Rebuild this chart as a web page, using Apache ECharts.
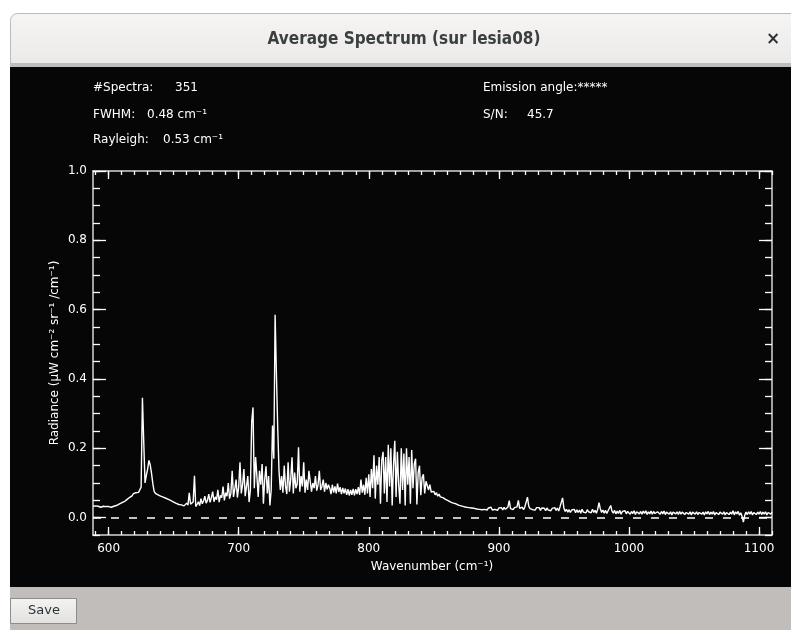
<!DOCTYPE html>
<html><head><meta charset="utf-8">
<script src="https://cdn.jsdelivr.net/npm/echarts@6/dist/echarts.min.js"></script>
<style>html,body{margin:0;padding:0;background:#fff;}#c{width:791px;height:630px;}</style>
</head><body><div id="c"></div>
<script>
const wavenumber = [
588,589,590,591,592,593,594,595,596,597,598,599,
600,601,602,603,604,605,606,607,608,609,
610,611,612,613,614,615,616,617,618,619,
620,621,622,623,624,625,626,627,628,629,
630,631,632,633,634,635,636,637,638,639,
640,641,642,643,644,645,646,647,648,649,
650,651,652,653,654,655,656,657,658,659,
660,661,662,663,664,665,666,667,668,669,
670,671,672,673,674,675,676,677,678,679,
680,681,682,683,684,685,686,687,688,689,
690,691,692,693,694,695,696,697,698,699,
700,701,702,703,704,705,706,707,708,709,
710,711,712,713,714,715,716,717,718,719,
720,721,722,723,724,725,726,727,728,729,
730,731,732,733,734,735,736,737,738,739,
740,741,742,743,744,745,746,747,748,749,
750,751,752,753,754,755,756,757,758,759,
760,761,762,763,764,765,766,767,768,769,
770,771,772,773,774,775,776,777,778,779,
780,781,782,783,784,785,786,787,788,789,
790,791,792,793,794,795,796,797,798,799,
800,801,802,803,804,805,806,807,808,809,
810,811,812,813,814,815,816,817,818,819,
820,821,822,823,824,825,826,827,828,829,
830,831,832,833,834,835,836,837,838,839,
840,841,842,843,844,845,846,847,848,849,
850,851,852,853,854,855,856,857,858,859,
860,861,862,863,864,865,866,867,868,869,
870,871,872,873,874,875,876,877,878,879,
880,881,882,883,884,885,886,887,888,889,
890,891,892,893,894,895,896,897,898,899,
900,901,902,903,904,905,906,907,908,909,
910,911,912,913,914,915,916,917,918,919,
920,921,922,923,924,925,926,927,928,929,
930,931,932,933,934,935,936,937,938,939,
940,941,942,943,944,945,946,947,948,949,
950,951,952,953,954,955,956,957,958,959,
960,961,962,963,964,965,966,967,968,969,
970,971,972,973,974,975,976,977,978,979,
980,981,982,983,984,985,986,987,988,989,
990,991,992,993,994,995,996,997,998,999,
1000,1001,1002,1003,1004,1005,1006,1007,1008,1009,
1010,1011,1012,1013,1014,1015,1016,1017,1018,1019,
1020,1021,1022,1023,1024,1025,1026,1027,1028,1029,
1030,1031,1032,1033,1034,1035,1036,1037,1038,1039,
1040,1041,1042,1043,1044,1045,1046,1047,1048,1049,
1050,1051,1052,1053,1054,1055,1056,1057,1058,1059,
1060,1061,1062,1063,1064,1065,1066,1067,1068,1069,
1070,1071,1072,1073,1074,1075,1076,1077,1078,1079,
1080,1081,1082,1083,1084,1085,1086,1087,1088,1089,
1090,1091,1092,1093,1094,1095,1096,1097,1098,1099,
1100,1101,1102,1103,1104,1105,1106,1107,1108,1109,
1110];
const radiance = [
.033,.031,.034,.030,.033,.034,.030,.031,.033,.029,.032,.029,
.032,.031,.030,.034,.033,.036,.035,.039,.039,.042,
.043,.047,.046,.051,.052,.056,.058,.063,.063,.069,
.069,.072,.068,.073,.074,.088,.346,.220,.100,.122,
.140,.165,.152,.128,.098,.076,.070,.065,.066,.061,
.062,.058,.059,.054,.056,.051,.053,.048,.049,.044,
.045,.040,.041,.037,.038,.033,.037,.034,.034,.037,
.042,.036,.072,.039,.034,.045,.121,.032,.038,.046,
.035,.055,.040,.048,.062,.042,.050,.068,.044,.058,
.075,.046,.060,.052,.080,.045,.064,.058,.090,.050,
.072,.062,.100,.055,.070,.135,.060,.082,.110,.058,
.088,.160,.070,.095,.140,.062,.090,.120,.045,.080,
.275,.318,.085,.175,.120,.060,.135,.095,.155,.040,
.110,.148,.070,.120,.035,.080,.266,.170,.585,.415,
.260,.135,.080,.120,.072,.150,.090,.068,.160,.075,
.110,.174,.070,.130,.085,.098,.203,.075,.120,.090,
.160,.072,.110,.080,.135,.140,.075,.100,.085,.120,
.078,.095,.135,.080,.090,.110,.075,.100,.082,.095,
.085,.068,.095,.072,.090,.070,.098,.074,.088,.068,
.086,.070,.084,.066,.082,.064,.080,.066,.083,.064,
.082,.068,.088,.066,.110,.072,.095,.066,.115,.070,
.125,.060,.140,.085,.180,.055,.150,.095,.175,.040,
.165,.190,.070,.175,.045,.210,.090,.200,.035,.150,
.222,.060,.190,.095,.040,.200,.080,.185,.035,.200,
.095,.175,.040,.195,.085,.155,.170,.038,.130,.150,
.065,.115,.125,.070,.105,.100,.080,.095,.074,.078,
.076,.066,.072,.062,.068,.060,.064,.058,.060,.053,
.056,.049,.053,.045,.050,.042,.046,.040,.043,.036,
.040,.034,.038,.032,.036,.030,.035,.029,.033,.028,
.032,.027,.030,.025,.030,.024,.029,.023,.028,.024,
.029,.022,.028,.023,.030,.022,.027,.024,.029,.021,
.028,.023,.029,.022,.030,.024,.028,.031,.049,.026,
.030,.023,.029,.024,.031,.050,.027,.022,.030,.023,
.031,.036,.059,.033,.026,.030,.023,.028,.022,.029,
.024,.029,.021,.028,.023,.027,.020,.028,.022,.026,
.020,.027,.022,.029,.021,.028,.019,.031,.036,.057,
.028,.018,.024,.016,.023,.015,.022,.017,.024,.014,
.023,.015,.022,.013,.024,.016,.021,.014,.023,.017,
.022,.014,.024,.015,.021,.013,.024,.043,.026,.015,
.022,.013,.021,.012,.020,.024,.035,.019,.013,.021,
.011,.019,.012,.021,.010,.018,.013,.020,.011,.018,
.020,.010,.018,.012,.020,.009,.017,.021,.011,.018,
.010,.019,.012,.020,.009,.017,.011,.019,.010,.018,
.012,.008,.017,.020,.010,.018,.011,.019,.009,.016,
.018,.010,.017,.008,.016,.019,.011,.017,.009,.018,
.010,.016,.019,.009,.015,.018,.010,.017,.008,.016,
.018,.010,.017,.009,.015,.019,.010,.016,.008,.017,
.011,.018,.009,.016,.010,.018,.008,.015,.017,.009,
.016,.019,.010,.017,.008,.015,.018,.009,.016,.010,
.020,.008,.017,.011,.018,.007,.014,.004,-.013,.006,
.016,.009,.017,.010,.018,.008,.015,.017,.009,.016,
.010,.018,.009,.016,.010,.017,.008,.015,.017,.010,
.016];

const xMajorTicks = [600, 700, 800, 900, 1000, 1100];
const xMinorTicks = [590,600,610,620,630,640,650,660,670,680,690,700,710,720,730,740,750,760,770,780,790,
  800,810,820,830,840,850,860,870,880,890,900,910,920,930,940,950,960,970,980,990,
  1000,1010,1020,1030,1040,1050,1060,1070,1080,1090,1100,1110];
const yMajorTicks = [0, 0.2, 0.4, 0.6, 0.8, 1.0];
const yMinorTicks = [-0.05,0,0.05,0.1,0.15,0.2,0.25,0.3,0.35,0.4,0.45,0.5,0.55,0.6,0.65,0.7,0.75,0.8,0.85,0.9,0.95,1.0];
const zeroLevel = 0;

const windowTitle = 'Average Spectrum (sur lesia08)';
const infoLeftLabels = ['#Spectra:', 'FWHM:', 'Rayleigh:'];
const infoLeftValues = ['351', '0.48 cm⁻¹', '0.53 cm⁻¹'];
const infoRightLabels = ['Emission angle:*****', 'S/N:'];
const infoRightValues = ['', '45.7'];
const xTitle = 'Wavenumber (cm⁻¹)';
const yTitle = 'Radiance (μW cm⁻² sr⁻¹ /cm⁻¹)';
const buttonText = 'Save';

const FONT = 'DejaVu Sans';
const AX_LINE = {color: '#d6d6d6', width: 1.5};
const TICK = {color: '#ffffff', width: 1.3};

function xAx(pos, ticks, len, labels, line) {
  return {
    type: 'value', min: 588, max: 1110, position: pos, z: 10,
    axisLine: {show: line, onZero: false, lineStyle: AX_LINE},
    axisTick: {show: true, inside: true, length: len, customValues: ticks, lineStyle: TICK},
    axisLabel: labels ? {show: true, customValues: ticks, color: '#fff', fontFamily: FONT, fontSize: 12, margin: 8,
      formatter: v => String(Math.round(v))} : {show: false},
    splitLine: {show: false}, minorTick: {show: false}
  };
}
function yAx(pos, ticks, len, labels, line) {
  return {
    type: 'value', min: -0.05, max: 1.0, position: pos, z: 10,
    axisLine: {show: line, onZero: false, lineStyle: AX_LINE},
    axisTick: {show: true, inside: true, length: len, customValues: ticks, lineStyle: TICK},
    axisLabel: labels ? {show: true, customValues: ticks, color: '#fff', fontFamily: FONT, fontSize: 12, margin: 6,
      formatter: v => v.toFixed(1)} : {show: false},
    splitLine: {show: false}, minorTick: {show: false}
  };
}

const points = wavenumber.map((w, i) => [w, radiance[i]]);

const graphics = [
  {type: 'rect', z: 0, shape: {x: 10.5, y: 13.5, width: 800, height: 54, r: [7, 7, 0, 0]},
   style: {fill: new echarts.graphic.LinearGradient(0, 0, 0, 1, [{offset: 0, color: '#f6f5f4'}, {offset: 1, color: '#ebe9e7'}]), stroke: '#bdbab7', lineWidth: 1}},
  {type: 'rect', z: 0, shape: {x: 10, y: 63, width: 800, height: 4}, style: {fill: '#bfbdbb'}},
  {type: 'rect', z: 0, shape: {x: 10, y: 67, width: 800, height: 520}, style: {fill: '#060606'}},
  {type: 'rect', z: 0, shape: {x: 10, y: 587, width: 800, height: 43}, style: {fill: '#c0bdbb'}},
  {type: 'rect', z: 1, shape: {x: 10.5, y: 598.5, width: 66, height: 25},
   style: {fill: new echarts.graphic.LinearGradient(0, 0, 0, 1, [{offset: 0, color: '#f3f3f2'}, {offset: 1, color: '#e2e1e0'}]), stroke: '#8e8c8a', lineWidth: 1}},
  {type: 'text', z: 12, x: 44, y: 611, style: {text: buttonText, font: '13px "DejaVu Sans"', fill: '#2e3436', align: 'center', verticalAlign: 'middle'}},
  {type: 'text', z: 12, x: 404, y: 40, style: {text: windowTitle, font: 'bold 17px "DejaVu Sans Condensed", "DejaVu Sans"', fill: '#3a3f41', align: 'center', verticalAlign: 'middle'}},
  {type: 'text', z: 12, x: 773, y: 40, style: {text: '×', font: 'bold 17px "DejaVu Sans"', fill: '#2e3436', align: 'center', verticalAlign: 'middle'}},
  {type: 'text', z: 12, x: 432, y: 567, style: {text: xTitle, font: '12px "DejaVu Sans"', fill: '#fff', align: 'center', verticalAlign: 'middle'}},
  {type: 'text', z: 12, x: 55, y: 353, rotation: Math.PI / 2, style: {text: yTitle, font: '12px "DejaVu Sans"', fill: '#fff', align: 'center', verticalAlign: 'middle'}}
];
const leftValueX = [175, 147, 163];
const rowY = [88, 115, 140];
infoLeftLabels.forEach((t, i) => {
  graphics.push({type: 'text', z: 12, x: 93, y: rowY[i], style: {text: t, font: '12px "DejaVu Sans"', fill: '#fff', verticalAlign: 'middle'}});
  graphics.push({type: 'text', z: 12, x: leftValueX[i], y: rowY[i], style: {text: infoLeftValues[i], font: '12px "DejaVu Sans"', fill: '#fff', verticalAlign: 'middle'}});
});
const rightValueX = [620, 527];
infoRightLabels.forEach((t, i) => {
  graphics.push({type: 'text', z: 12, x: 483, y: rowY[i], style: {text: t, font: '12px "DejaVu Sans"', fill: '#fff', verticalAlign: 'middle'}});
  graphics.push({type: 'text', z: 12, x: rightValueX[i], y: rowY[i], style: {text: infoRightValues[i], font: '12px "DejaVu Sans"', fill: '#fff', verticalAlign: 'middle'}});
});

const chart = echarts.init(document.getElementById('c'), null, {renderer: 'canvas'});
chart.setOption({
  animation: false,
  backgroundColor: '#ffffff',
  grid: {left: 93, top: 171, width: 679, height: 364, containLabel: false},
  xAxis: [
    xAx('bottom', xMajorTicks, 8, true, true),
    xAx('bottom', xMinorTicks, 4, false, false),
    xAx('top', xMajorTicks, 8, false, true),
    xAx('top', xMinorTicks, 4, false, false)
  ],
  yAxis: [
    yAx('left', yMajorTicks, 13, true, true),
    yAx('left', yMinorTicks, 7, false, false),
    yAx('right', yMajorTicks, 13, false, true),
    yAx('right', yMinorTicks, 7, false, false)
  ],
  graphic: graphics,
  series: [{
    type: 'line', xAxisIndex: 0, yAxisIndex: 0, z: 11,
    data: points, showSymbol: false, symbol: 'none', clip: true,
    lineStyle: {color: '#ffffff', width: 1.4},
    markLine: {
      silent: true, symbol: 'none', label: {show: false},
      lineStyle: {color: '#ffffff', type: [8, 10], width: 1.5},
      data: [{yAxis: zeroLevel}]
    }
  }]
});
</script>
</body></html>
